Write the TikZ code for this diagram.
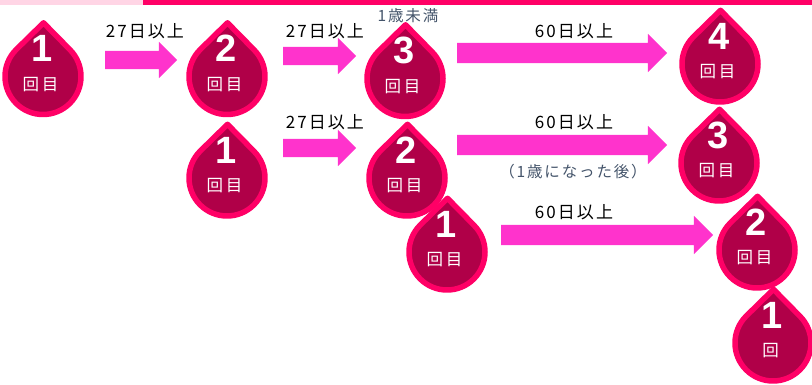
\documentclass[tikz,border=0pt]{standalone}
\usepackage{fontspec}
\setmainfont{Liberation Sans}
\newfontfamily\cjk{Noto Sans CJK JP}
\newfontfamily\cjkwide[LetterSpace=12]{Noto Sans CJK JP}
\usetikzlibrary{shapes.arrows}
\definecolor{dropedge}{HTML}{FF0066}
\definecolor{dropfill}{HTML}{B00048}
\definecolor{barpale}{HTML}{FFD5E5}
\definecolor{arrowpink}{HTML}{FF33CC}
\definecolor{notecolor}{HTML}{44546A}
\tikzset{
    dropbody/.style = {draw=dropedge, fill=dropfill, line width=5.5pt, line join=round},
    dropnum/.style = {text=white, font=\fontsize{38}{38}\selectfont\bfseries, inner sep=0pt},
    droplab/.style = {text=white, font=\cjk\fontsize{16.5}{16.5}\selectfont, inner sep=0pt},
    bigarrow/.style = {single arrow, anchor=west, fill=arrowpink, inner sep=0pt, outer sep=0pt, single arrow head extend=9pt},
    gaplabel/.style = {text=black, font=\cjkwide\fontsize{17}{17}\selectfont, inner sep=0pt},
    notelabel/.style = {text=notecolor, font=\cjkwide\fontsize{15.5}{15.5}\selectfont, inner sep=0pt}
}
% name, x, y, number, label
\newcommand{\waterdrop}[5]{
    \draw [dropbody, shift={(#2,#3)}] (0.5,53.7) -- (135:38) arc [start angle=135, end angle=405, radius=38] -- cycle;
    \node [dropnum] (#1num) at (#2-1,#3+28) {#4};
    \node [droplab] (#1lab) at (#2-2.5,#3-8) {#5};
}
\newcommand{\shaft}{\rule{0pt}{18pt}}
\newcommand{\wideshaft}{\rule{0pt}{20pt}}
\begin{document}
\begin{tikzpicture}[x=1pt, y=1pt]
    \useasboundingbox (0,0) rectangle (812,385);
    \fill [barpale] (0,380) rectangle (143,385);
    \fill [dropedge] (143,380) rectangle (812,385);

    \waterdrop{first}{43}{308.5}{1}{回\,目}
    \waterdrop{second}{227}{308.5}{2}{回\,目}
    \waterdrop{third}{405}{306.5}{3}{回\,目}
    \waterdrop{fourth}{720}{321}{4}{回\,目}

    \waterdrop{midone}{227}{207}{1}{回\,目}
    \waterdrop{midtwo}{407}{207}{2}{回\,目}
    \waterdrop{midthree}{719}{222}{3}{回\,目}

    \waterdrop{lowone}{447}{133}{1}{回\,目}
    \waterdrop{lowtwo}{757}{135}{2}{回\,目}
    \waterdrop{lastone}{773}{42}{1}{回}

    \node [bigarrow, minimum height=72pt] (arrowa) at (105,325) {\shaft};
    \node [bigarrow, minimum height=73pt] (arrowb) at (283,329) {\shaft};
    \node [bigarrow, minimum height=210pt] (arrowc) at (457,332) {\wideshaft};
    \node [bigarrow, minimum height=73pt] (arrowd) at (283,237) {\shaft};
    \node [bigarrow, minimum height=210pt] (arrowe) at (457,240) {\wideshaft};
    \node [bigarrow, minimum height=212pt] (arrowf) at (501,150) {\wideshaft};

    \node [gaplabel] (gapa) at (145,354) {27日以上};
    \node [gaplabel] (gapb) at (325,354) {27日以上};
    \node [gaplabel] (gapc) at (574,354) {60日以上};
    \node [gaplabel] (gapd) at (325,263) {27日以上};
    \node [gaplabel] (gape) at (574,263) {60日以上};
    \node [gaplabel] (gapf) at (574,173) {60日以上};

    \node [notelabel] (under) at (408,369) {1歳未満};
    \node [notelabel] (after) at (573,213) {（1歳になった後）};
\end{tikzpicture}
\end{document}
